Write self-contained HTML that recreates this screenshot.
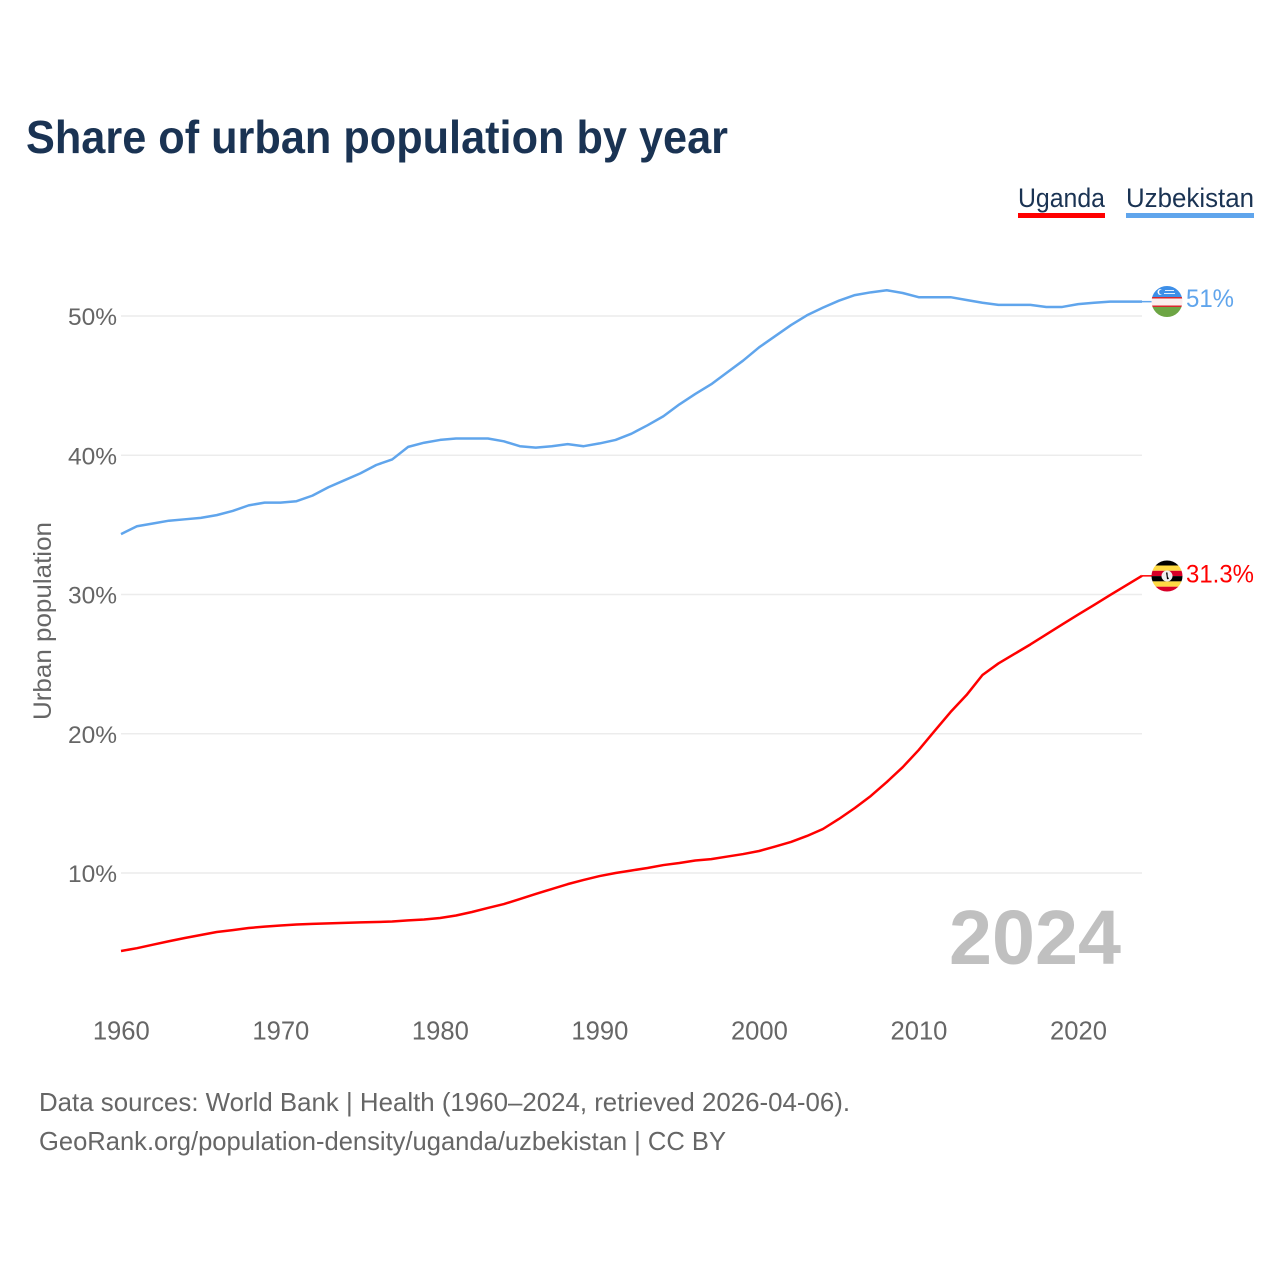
<!DOCTYPE html>
<html lang="en">
<head>
<meta charset="utf-8">
<title>Share of urban population by year</title>
<style>
html,body{margin:0;padding:0;background:#fff;width:1280px;height:1280px;overflow:hidden}
svg{display:block;font-family:"Liberation Sans",sans-serif}
</style>
</head>
<body>
<svg id="chart" xmlns="http://www.w3.org/2000/svg" width="1280" height="1280" viewBox="0 0 1280 1280">
  <defs>
    <clipPath id="clip-uz"><circle cx="1167" cy="301.5" r="15.5"/></clipPath>
    <clipPath id="clip-ug"><circle cx="1167" cy="576" r="15.5"/></clipPath>
  </defs>
  <rect width="1280" height="1280" fill="#fff"/>
  <text x="26" y="153" font-size="46" font-weight="700" fill="#1a3353" textLength="702" lengthAdjust="spacingAndGlyphs">Share of urban population by year</text>

  <g>
    <text x="1018" y="207" font-size="27" fill="#1a3353" textLength="87" lengthAdjust="spacingAndGlyphs">Uganda</text>
    <rect x="1018" y="213" width="87" height="5" fill="#ff0000"/>
  </g>
  <g>
    <text x="1126" y="207" font-size="27" fill="#1a3353" textLength="128" lengthAdjust="spacingAndGlyphs">Uzbekistan</text>
    <rect x="1126" y="213" width="128" height="5" fill="#60a5ec"/>
  </g>

  <g id="grid"></g>
  <g id="yticks"></g>
  <g id="xticks"></g>
  <text transform="translate(51 720) rotate(-90)" font-size="25" fill="#666" textLength="198" lengthAdjust="spacingAndGlyphs">Urban population</text>

  <text x="949" y="964" font-size="77" font-weight="700" fill="#c0c0c0" textLength="172" lengthAdjust="spacingAndGlyphs">2024</text>

  <g id="series"></g>

  <g clip-path="url(#clip-uz)">
    <rect x="1150" y="285" width="34" height="13" fill="#3d8fe8"/>
    <rect x="1150" y="297" width="34" height="1.5" fill="#d8262c"/>
    <rect x="1150" y="298.5" width="34" height="7" fill="#fbeeee"/>
    <rect x="1150" y="305.5" width="34" height="1.5" fill="#d8262c"/>
    <rect x="1150" y="307" width="34" height="12" fill="#6da544"/>
    <circle cx="1160.5" cy="292" r="3" fill="#fff"/>
    <circle cx="1161.7" cy="292" r="2.6" fill="#3d8fe8"/>
    <rect x="1165" y="290" width="9" height="1" fill="#dfeeff"/>
    <rect x="1164" y="293" width="11" height="1" fill="#dfeeff"/>
  </g>
  <g clip-path="url(#clip-ug)">
    <rect x="1150" y="560" width="34" height="5.5" fill="#000"/>
    <rect x="1150" y="565.5" width="34" height="5.3" fill="#ffda44"/>
    <rect x="1150" y="570.8" width="34" height="5.3" fill="#d80027"/>
    <rect x="1150" y="576.1" width="34" height="5.3" fill="#000"/>
    <rect x="1150" y="581.4" width="34" height="5.3" fill="#ffda44"/>
    <rect x="1150" y="586.7" width="34" height="5.5" fill="#d80027"/>
    <circle cx="1167" cy="576" r="5.5" fill="#f0f0f0"/>
    <path d="M1166 572.5l1.5 0 .3 4 1.2 2.5-2 .3-.4-3z" fill="#000"/>
  </g>

  <text id="label-uz" x="1186" y="308" font-size="25" fill="#60a5ec" textLength="48" lengthAdjust="spacingAndGlyphs">51%</text>
  <text id="label-ug" x="1186" y="583" font-size="25" fill="#ff0000" textLength="68" lengthAdjust="spacingAndGlyphs">31.3%</text>

  <text x="39" y="1111" font-size="26" fill="#666" textLength="811" lengthAdjust="spacingAndGlyphs">Data sources: World Bank | Health (1960–2024, retrieved 2026-04-06).</text>
  <text x="39" y="1150" font-size="26" fill="#666" textLength="687" lengthAdjust="spacingAndGlyphs">GeoRank.org/population-density/uganda/uzbekistan | CC BY</text>
</svg>
<script>
const years = [1960,1961,1962,1963,1964,1965,1966,1967,1968,1969,1970,1971,1972,1973,1974,1975,1976,1977,1978,1979,1980,1981,1982,1983,1984,1985,1986,1987,1988,1989,1990,1991,1992,1993,1994,1995,1996,1997,1998,1999,2000,2001,2002,2003,2004,2005,2006,2007,2008,2009,2010,2011,2012,2013,2014,2015,2016,2017,2018,2019,2020,2021,2022,2023,2024];
const ugandaValues = [4.4,4.6,4.85,5.1,5.33,5.55,5.76,5.9,6.05,6.15,6.23,6.3,6.35,6.38,6.42,6.45,6.48,6.52,6.6,6.66,6.77,6.95,7.2,7.49,7.77,8.13,8.5,8.85,9.2,9.5,9.78,10.0,10.18,10.36,10.57,10.72,10.9,11.0,11.18,11.36,11.58,11.9,12.23,12.66,13.16,13.88,14.67,15.53,16.53,17.6,18.83,20.2,21.56,22.78,24.22,25.05,25.73,26.41,27.13,27.85,28.56,29.25,29.96,30.65,31.34];
const uzbekistanValues = [34.34,34.9,35.1,35.3,35.4,35.5,35.7,36.0,36.4,36.6,36.6,36.7,37.1,37.7,38.2,38.7,39.3,39.7,40.6,40.9,41.1,41.2,41.2,41.2,41.0,40.65,40.55,40.65,40.8,40.65,40.85,41.1,41.55,42.15,42.8,43.65,44.4,45.1,45.95,46.8,47.75,48.55,49.35,50.05,50.6,51.1,51.5,51.7,51.85,51.65,51.35,51.35,51.35,51.15,50.95,50.8,50.8,50.8,50.65,50.65,50.85,50.95,51.03,51.03,51.03];
const xTickYears = [1960,1970,1980,1990,2000,2010,2020];
const yTickValues = [10,20,30,40,50];

const NS = 'http://www.w3.org/2000/svg';
function xScale(year){ return 121 + (year - 1960) * (1142 - 121) / 64; }
function yScale(v){ return 873 - (v - 10) * 13.925; }
function svgEl(tag){ return document.createElementNS(NS, tag); }

const grid = document.getElementById('grid');
const yticks = document.getElementById('yticks');
const xticks = document.getElementById('xticks');
const seriesGroup = document.getElementById('series');

yTickValues.forEach(function(v){
  const line = svgEl('line');
  
  
  line.setAttribute('x1', 121);
  line.setAttribute('x2', 1142);
  line.setAttribute('y1', yScale(v));
  line.setAttribute('y2', yScale(v));
  line.setAttribute('stroke', '#ececec');
  line.setAttribute('stroke-width', '1.5');
  grid.appendChild(line);

  const t = svgEl('text');
  
  
  t.setAttribute('x', 117);
  t.setAttribute('y', yScale(v) + 9);
  t.setAttribute('text-anchor', 'end');
  t.setAttribute('font-size', '24.5');
  t.setAttribute('fill', '#666');
  t.textContent = v + '%';
  yticks.appendChild(t);
});

xTickYears.forEach(function(y){
  const t = svgEl('text');
  
  
  t.setAttribute('x', xScale(y) + 0.3);
  t.setAttribute('y', 1039.5);
  t.setAttribute('text-anchor', 'middle');
  t.setAttribute('font-size', '25.6');
  t.setAttribute('fill', '#666');
  t.textContent = y;
  xticks.appendChild(t);
});

function drawSeries(values, color, lineName, stubName, labelId, labelOffset){
  const pts = values.map(function(v, i){ return xScale(years[i]).toFixed(2) + ',' + yScale(v).toFixed(2); });
  const line = svgEl('polyline');
  
  
  line.setAttribute('points', pts.join(' '));
  line.setAttribute('fill', 'none');
  line.setAttribute('stroke', color);
  line.setAttribute('stroke-width', '2.5');
  line.setAttribute('stroke-linejoin', 'round');
  seriesGroup.appendChild(line);

  const last = values[values.length - 1];
  const stub = svgEl('line');
  
  
  stub.setAttribute('x1', 1142);
  stub.setAttribute('x2', 1152);
  stub.setAttribute('y1', yScale(last));
  stub.setAttribute('y2', yScale(last));
  stub.setAttribute('stroke', color);
  stub.setAttribute('stroke-width', '1.5');
  seriesGroup.appendChild(stub);

  const lab = document.getElementById(labelId);
  lab.setAttribute('y', yScale(last) + labelOffset);
  lab.textContent = (Math.round(last * 10) / 10) + '%';
}
drawSeries(uzbekistanValues, '#60a5ec', 'line-uzbekistan', 'connector-uzbekistan', 'label-uz', 5.5);
drawSeries(ugandaValues, '#ff0000', 'line-uganda', 'connector-uganda', 'label-ug', 6.5);
</script>
</body>
</html>
